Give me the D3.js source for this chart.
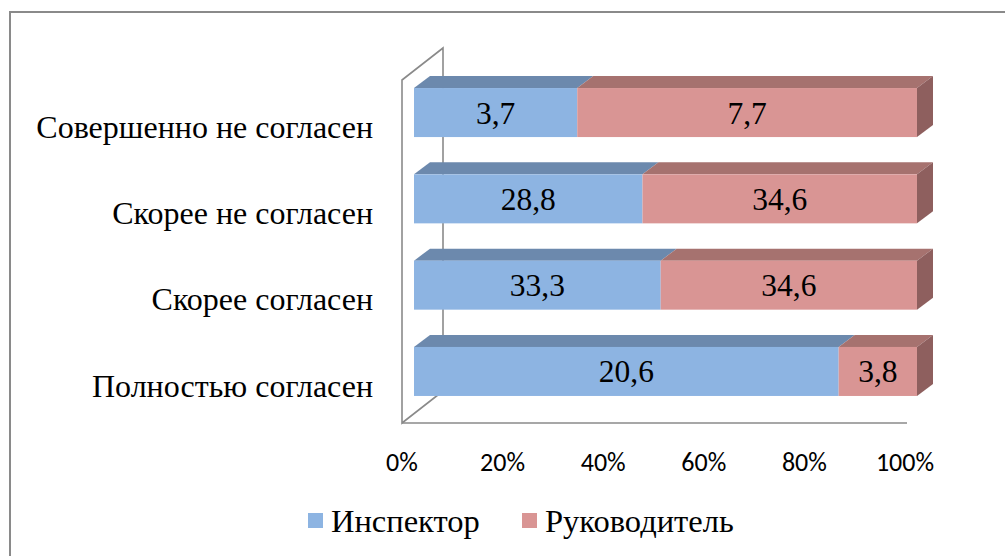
<!DOCTYPE html>
<html>
<head>
<meta charset="utf-8">
<script src="https://cdn.jsdelivr.net/npm/d3@7"></script>
</head>
<body style="margin:0">
<script>
// categories top to bottom, as on the chart
const categories = ["Совершенно не согласен", "Скорее не согласен", "Скорее согласен", "Полностью согласен"];
const inspector = [3.7, 28.8, 33.3, 20.6];
const head = [7.7, 34.6, 34.6, 3.8];
const seriesNames = ["Инспектор", "Руководитель"];
const ticks = [0, 0.2, 0.4, 0.6, 0.8, 1];

const W = 1005, H = 556;
const svg = d3.select("body").append("svg").attr("width", W).attr("height", H)
  .style("display", "block");

function font(sel, fam, size) {
  sel.attr("font-family", fam).attr("font-size", size);
}
const SERIF = "'Liberation Serif', 'Times New Roman', Tinos, serif";
const SANS = "Carlito, Calibri, 'Liberation Sans', sans-serif";

// outer frame (cut by the window on right and bottom)
svg.append("rect").attr("x", 10).attr("y", 12).attr("width", 1100).attr("height", 700)
  .attr("fill", "none").attr("stroke", "#8a8a8a").attr("stroke-width", 2);

const x = d3.scaleLinear().domain([0, 1]).range([402, 905]);
const y = d3.scaleBand().domain(categories).range([69.4, 414.6]).paddingInner(0.432).paddingOuter(0.216);

// 3d depth
const wallDx = 41, wallDy = -32;   // walls
const barOx = 12;                   // bar front offset from axis
const dx = 16, dy = -12;            // bar depth
const floorY = 423, wallTop = 80;

const wall = svg.append("g").attr("stroke", "#8a8a8a").attr("stroke-width", 1.6).attr("fill", "none");
wall.append("path").attr("d",
  `M${x(0)},${floorY} L${x(0)},${wallTop} L${x(0) + wallDx},${wallTop + wallDy} L${x(0) + wallDx},${floorY + wallDy} Z`);
wall.append("line").attr("x1", x(0)).attr("y1", floorY).attr("x2", x(1) + 2).attr("y2", floorY);

const cols = {
  front: ["#8db4e2", "#d99594"],
  top: ["#6c89ad", "#a6726f"],
  side: ["#6a86a9", "#8e5f5e"]
};

categories.forEach((c, i) => {
  const tot = inspector[i] + head[i];
  const parts = [[0, inspector[i] / tot], [inspector[i] / tot, 1]];
  const vals = [inspector[i], head[i]];
  const y0 = y(c), bh = y.bandwidth();
  const g = svg.append("g");
  parts.forEach((p, s) => {
    const a = x(p[0]) + barOx, b = x(p[1]) + barOx;
    g.append("path").attr("fill", cols.top[s])
      .attr("d", `M${a},${y0} L${a + dx},${y0 + dy} L${b + dx},${y0 + dy} L${b},${y0} Z`);
    g.append("rect").attr("x", a).attr("y", y0).attr("width", b - a).attr("height", bh)
      .attr("fill", cols.front[s]);
    if (s === 1) {
      g.append("path").attr("fill", cols.side[s])
        .attr("d", `M${b},${y0} L${b + dx},${y0 + dy} L${b + dx},${y0 + bh + dy} L${b},${y0 + bh} Z`);
    }
    const t = g.append("text").attr("x", (a + b) / 2).attr("y", y0 + bh / 2).attr("dy", "0.35em")
      .attr("text-anchor", "middle").attr("fill", "#000")
      .text(String(vals[s]).replace(".", ","));
    font(t, SERIF, 31.5);
  });
});

// category labels
const catText = svg.append("g").selectAll("text").data(categories).enter().append("text")
  .attr("x", 373).attr("y", d => y(d) + y.bandwidth() / 2 + 14).attr("dy", "0.35em")
  .attr("text-anchor", "end")
  .text(d => d);
font(catText, SERIF, 32);

// tick labels
const tickText = svg.append("g").selectAll("text").data(ticks).enter().append("text")
  .attr("x", d => x(d)).attr("y", 462).attr("dy", "0.35em")
  .attr("text-anchor", "middle")
  .text(d => d3.format(".0%")(d));
font(tickText, SANS, 26);

// legend
const legX = [308, 522];
const leg = svg.append("g");
seriesNames.forEach((n, s) => {
  leg.append("rect").attr("x", legX[s]).attr("y", 513).attr("width", 15).attr("height", 15)
    .attr("fill", cols.front[s]);
  const t = leg.append("text").attr("x", legX[s] + 23).attr("y", 521).attr("dy", "0.35em")
    .text(n);
  font(t, SERIF, 32.5);
});
</script>
</body>
</html>
